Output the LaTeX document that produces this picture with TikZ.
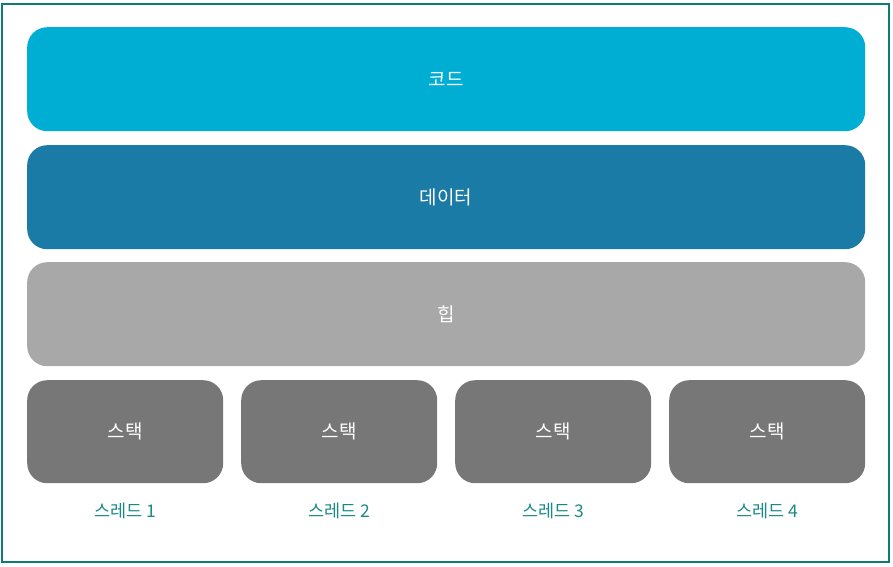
\documentclass[tikz,border=0pt]{standalone}
\usepackage{fontspec}
\setmainfont{Noto Sans CJK KR}
\definecolor{codec}{HTML}{00AED4}
\definecolor{datac}{HTML}{1A7BA6}
\definecolor{heapc}{HTML}{A8A8A8}
\definecolor{stackc}{HTML}{777777}
\definecolor{tealc}{HTML}{1A8A88}
\definecolor{framec}{HTML}{0E7B74}
\begin{document}
\begin{tikzpicture}[x=1pt,y=-1pt,
  layer/.style={rounded corners=20pt,minimum height=104pt,inner sep=0pt,text=white,font=\fontsize{19}{22}\selectfont,anchor=north west},
  wide/.style={layer,minimum width=838pt},
  stk/.style={layer,fill=stackc,minimum width=196pt,minimum height=103pt},
  thr/.style={text=tealc,font=\fontsize{17.5}{20}\selectfont}]
\useasboundingbox (0,0) rectangle (893,566);
\draw[framec,line width=2pt] (2,4) rectangle (889,562);
\node[wide,fill=codec] (code) at (27,27) {코드};
\node[wide,fill=datac] (data) at (27,145) {데이터};
\node[wide,fill=heapc] (heap) at (27,262) {힙};
\node[stk] (s1) at (27,380) {스택};
\node[stk] (s2) at (241,380) {스택};
\node[stk] (s3) at (455,380) {스택};
\node[stk] (s4) at (669,380) {스택};
\node[thr] (t1) at (125,511) {스레드 1};
\node[thr] (t2) at (339,511) {스레드 2};
\node[thr] (t3) at (553,511) {스레드 3};
\node[thr] (t4) at (767,511) {스레드 4};
\end{tikzpicture}
\end{document}
